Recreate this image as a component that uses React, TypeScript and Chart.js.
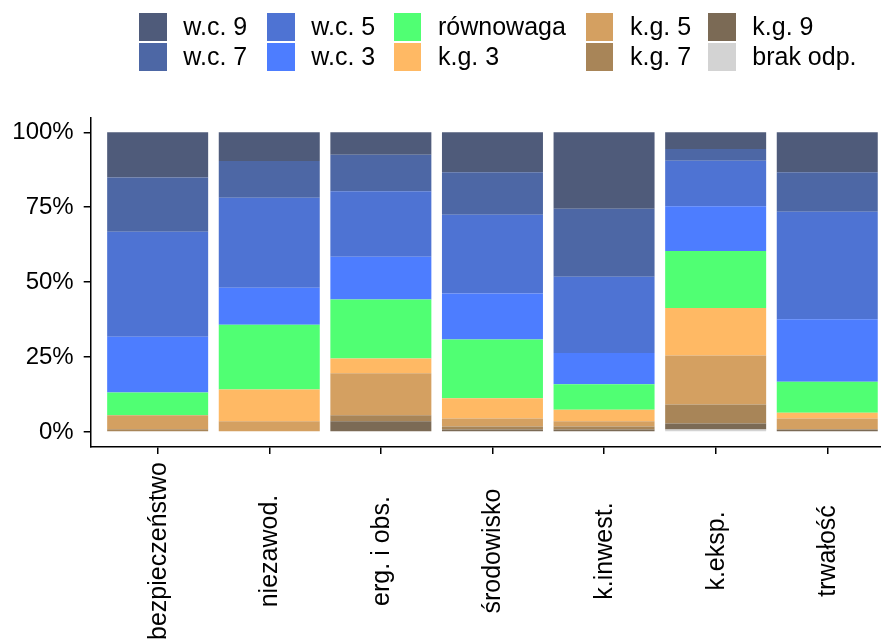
import React, { useEffect, useRef } from "react";
import { Chart, registerables } from "chart.js";

Chart.register(...registerables);

const categories = [
  "bezpieczeństwo",
  "niezawod.",
  "erg. i obs.",
  "środowisko",
  "k.inwest.",
  "k.eksp.",
  "trwałość",
];

// percentages per category, bottom of the stack first
const brakOdp = [0, 0, 0, 0, 0, 0.8, 0];
const kg9 = [0, 0, 3.6, 0.8, 0.8, 2.0, 0.8];
const kg7 = [0.9, 0, 2.0, 1.0, 1.0, 6.4, 0];
const kg5 = [4.7, 3.6, 14.0, 2.7, 1.8, 16.3, 3.7];
const kg3 = [0, 10.6, 4.9, 6.8, 3.8, 15.9, 1.9];
const rownowaga = [7.6, 21.6, 19.7, 19.6, 8.5, 19.0, 10.4];
const wc3 = [18.6, 12.3, 14.3, 15.3, 10.5, 14.9, 20.8];
const wc5 = [35.0, 30.1, 21.8, 26.3, 25.4, 15.2, 35.9];
const wc7 = [18.1, 12.2, 12.2, 14.2, 22.7, 3.9, 13.2];
const wc9 = [15.1, 9.6, 7.5, 13.3, 25.5, 5.6, 13.3];

const seriesNames = [
  "brak odp.",
  "k.g. 9",
  "k.g. 7",
  "k.g. 5",
  "k.g. 3",
  "równowaga",
  "w.c. 3",
  "w.c. 5",
  "w.c. 7",
  "w.c. 9",
];
const seriesValues = [brakOdp, kg9, kg7, kg5, kg3, rownowaga, wc3, wc5, wc7, wc9];
const seriesColors = [
  "#d3d3d3",
  "#7b6a55",
  "#a88558",
  "#d4a061",
  "#ffb964",
  "#50ff73",
  "#4d7dff",
  "#4e73d3",
  "#4d67a5",
  "#4f5b7a",
];

const yTicks = [0, 25, 50, 75, 100];

const FONT = '"Liberation Sans", Arial, sans-serif';

const xLabelPlugin = {
  id: "xLabelPlugin",
  afterDraw(chart: any) {
    const xs = chart.scales.x;
    const ctx = chart.ctx;
    ctx.save();
    ctx.font = `25px ${FONT}`;
    ctx.fillStyle = "#000";
    ctx.textAlign = "center";
    ctx.textBaseline = "middle";
    categories.forEach((label, i) => {
      const px = xs.getPixelForValue(i);
      ctx.save();
      ctx.translate(px + 1, 551);
      ctx.rotate(-Math.PI / 2);
      ctx.fillText(label, 0, 0);
      ctx.restore();
    });
    ctx.restore();
  },
};

export default function App() {
  const canvasRef = useRef<HTMLCanvasElement | null>(null);

  useEffect(() => {
    if (!canvasRef.current) return;
    const chart = new Chart(canvasRef.current, {
      type: "bar",
      data: {
        datasets: seriesNames.map((name, s) => ({
          label: name,
          data: seriesValues[s].map((v, i) => ({ x: i, y: v })),
          backgroundColor: seriesColors[s],
          borderWidth: 0,
          barPercentage: 0.905,
          categoryPercentage: 1,
        })),
      },
      options: {
        responsive: false,
        animation: false,
        devicePixelRatio: 1,
        layout: { padding: { top: 117.3, right: 0, left: 0, bottom: 0 } },
        plugins: {
          legend: { display: false },
          tooltip: { enabled: false },
        },
        scales: {
          x: {
            type: "linear",
            stacked: true,
            offset: false,
            min: -0.6,
            max: (881 - 90.7) / 111.6 - 0.6,
            afterBuildTicks: (scale: any) => {
              scale.ticks = categories.map((_, i) => ({ value: i }));
            },
            afterFit: (scale: any) => {
              scale.height = 195;
            },
            ticks: { display: false },
            grid: {
              offset: false,
              drawOnChartArea: false,
              drawTicks: true,
              tickLength: 7,
              color: "#000",
              lineWidth: 1.5,
            },
            border: { display: true, color: "#000", width: 1.5 },
          },
          y: {
            stacked: true,
            min: -5,
            max: 105,
            afterBuildTicks: (scale: any) => {
              scale.ticks = yTicks.map((v) => ({ value: v }));
            },
            afterFit: (scale: any) => {
              scale.width = 90.7;
            },
            ticks: {
              padding: 10,
              color: "#000",
              font: { family: FONT, size: 24 },
              callback: (v: any) => `${v}%`,
            },
            grid: {
              offset: false,
              drawOnChartArea: false,
              drawTicks: true,
              tickLength: 7,
              color: "#000",
              lineWidth: 1.5,
            },
            border: { display: true, color: "#000", width: 1.5 },
          },
        },
      },
      plugins: [xLabelPlugin],
    });
    return () => chart.destroy();
  }, []);

  // legend: top of stack first, filled column by column in two rows
  const legendOrder = seriesNames.map((n, i) => ({ name: n, color: seriesColors[i] })).reverse();
  const columns: { name: string; color: string }[][] = [];
  for (let i = 0; i < legendOrder.length; i += 2) columns.push(legendOrder.slice(i, i + 2));
  const columnLeft = [139.3, 267.3, 394, 586, 708.3];

  return (
    <div style={{ position: "absolute", left: 0, top: 0, width: 881, height: 642, background: "#fff" }}>
      <canvas ref={canvasRef} width={881} height={642} style={{ display: "block", position: "absolute", left: 0, top: 0 }} />
      {columns.map((col, c) => (
        <div key={c} style={{ position: "absolute", left: columnLeft[c], top: 13.3 }}>
          {col.map((item, r) => (
            <div
              key={r}
              style={{
                display: "flex",
                alignItems: "center",
                height: 27.5,
                marginBottom: r === 0 ? 2.5 : 0,
              }}
            >
              <div style={{ width: 27.4, height: 27.4, background: item.color, flex: "none" }} />
              <div
                style={{
                  marginLeft: 16.6,
                  fontFamily: FONT,
                  fontSize: 25,
                  lineHeight: "27.5px",
                  color: "#000",
                  whiteSpace: "nowrap",
                }}
              >
                {item.name}
              </div>
            </div>
          ))}
        </div>
      ))}
    </div>
  );
}
